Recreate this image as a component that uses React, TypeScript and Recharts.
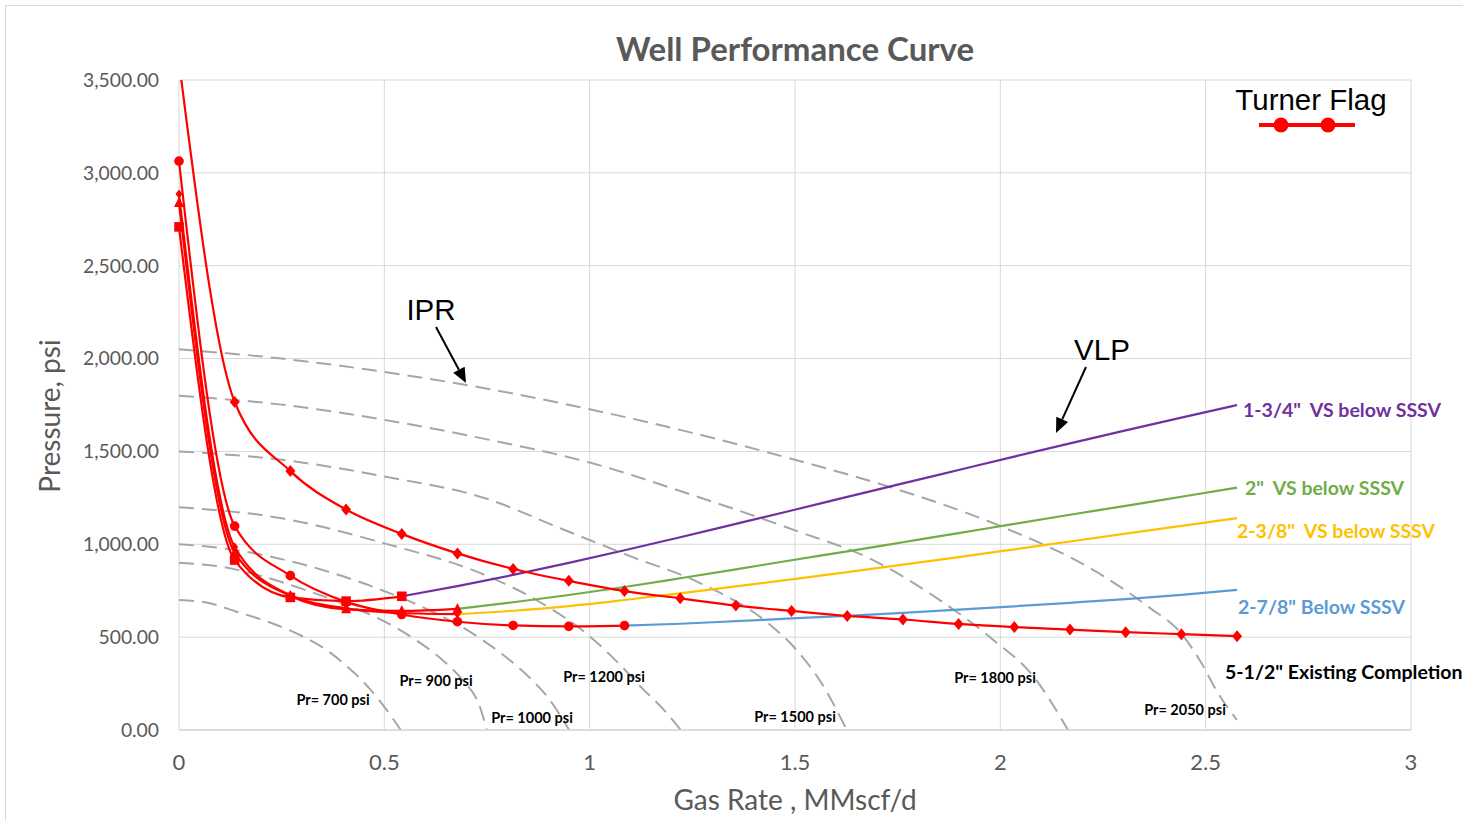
import React from "react";
import { LineChart, Line, XAxis, YAxis, CartesianGrid } from "recharts";

// Gas rates (MMscf/d) at which the lift curves were computed
const rates = [
  0, 0.1356, 0.2712, 0.4068, 0.5424, 0.678, 0.8136, 0.9492, 1.0848, 1.2204,
  1.356, 1.4916, 1.6272, 1.7628, 1.8984, 2.034, 2.1696, 2.3052, 2.4408, 2.5764,
];

// Turner critical-rate (liquid loading) curves, psi
const turner512 = [3600, 1766, 1394, 1187, 1056, 951, 867, 803, 748, 709, 670, 641, 614, 595, 571, 554, 541, 527, 516, 505];
const turner278 = [3063, 1098, 831, 690, 622, 583, 563, 558, 562];
const turner238 = [2886, 985, 726, 655, 630, 624];
const turner2in = [2838, 955, 722, 650, 641, 652];
const turner134 = [2709, 915, 714, 694, 720];

// Vertical lift performance beyond the Turner point, psi
const vlp134 = [720, 775, 835, 900, 968, 1038, 1110, 1182, 1255, 1328, 1400, 1472, 1543, 1613, 1682, 1750];
const vlp2in = [652, 688, 727, 770, 817, 865, 914, 962, 1011, 1060, 1110, 1159, 1207, 1256, 1305];
const vlp238 = [624, 642, 667, 700, 736, 773, 811, 850, 890, 931, 973, 1015, 1057, 1099, 1141];
const vlp278 = [562, 572, 586, 601, 615, 631, 648, 666, 685, 705, 728, 755];

// Inflow performance curves for each reservoir pressure
const ipr700Rate = [0, 0.07, 0.14, 0.22, 0.303, 0.36, 0.408, 0.44, 0.465, 0.5, 0.54];
const ipr700Psi = [700, 685, 637, 580, 502, 430, 345, 280, 220, 125, 0];
const ipr900Rate = [0, 0.1, 0.2, 0.3, 0.4, 0.5, 0.58, 0.64, 0.69, 0.73, 0.75];
const ipr900Psi = [900, 880, 830, 760, 680, 585, 480, 380, 270, 140, 0];
const ipr1000Rate = [0, 0.12, 0.24, 0.36, 0.48, 0.6, 0.7, 0.78, 0.85, 0.9, 0.95];
const ipr1000Psi = [1000, 975, 925, 855, 765, 655, 540, 420, 290, 170, 0];
const ipr1200Rate = [0, 0.25, 0.5, 0.75, 0.87, 1.0, 1.07, 1.13, 1.18, 1.222];
const ipr1200Psi = [1200, 1140, 1005, 830, 700, 505, 360, 220, 110, 0];
const ipr1500Rate = [0, 0.25, 0.5, 0.75, 0.93, 1.1, 1.27, 1.43, 1.5, 1.57, 1.626];
const ipr1500Psi = [1500, 1455, 1365, 1245, 1085, 935, 790, 583, 440, 233, 0];
const ipr1800Rate = [0, 0.25, 0.5, 0.75, 1.0, 1.25, 1.5, 1.69, 1.84, 1.98, 2.08, 2.165];
const ipr1800Psi = [1800, 1752, 1670, 1565, 1440, 1265, 1075, 915, 718, 490, 290, 0];
const ipr2050Rate = [0, 0.25, 0.5, 0.75, 1.0, 1.25, 1.5, 1.75, 2.0, 2.24, 2.36, 2.44, 2.49, 2.53, 2.576];
const ipr2050Psi = [2050, 2000, 1928, 1838, 1727, 1600, 1455, 1295, 1098, 844, 664, 521, 359, 198, 54];

const xTicks = [0, 0.5, 1, 1.5, 2, 2.5, 3];
const yTicks = [0, 500, 1000, 1500, 2000, 2500, 3000, 3500];

const RED = "#FF0000";
const GRAY_TEXT = "#595959";
const IPR_GRAY = "#A6A6A6";
const CAL = "Lato, 'Open Sans', sans-serif";
const ARIAL = "'Liberation Sans', Arial, sans-serif";

const pairs = (qs: number[], ps: number[]) => ps.map((p, i) => ({ q: qs[i], p }));

type Shape = "diamond" | "smallDiamond" | "circle" | "square" | "triangle";

const marker = (shape: Shape) => (props: any) => {
  const { cx, cy, index } = props;
  const key = `${shape}-${index}`;
  if (typeof cx !== "number" || typeof cy !== "number") return <g key={key} />;
  switch (shape) {
    case "diamond":
      return <path key={key} d={`M${cx},${cy - 6}L${cx + 5},${cy}L${cx},${cy + 6}L${cx - 5},${cy}Z`} fill={RED} />;
    case "smallDiamond":
      return <path key={key} d={`M${cx},${cy - 4.5}L${cx + 3.5},${cy}L${cx},${cy + 4.5}L${cx - 3.5},${cy}Z`} fill={RED} />;
    case "circle":
      return <circle key={key} cx={cx} cy={cy} r={4.8} fill={RED} />;
    case "square":
      return <rect key={key} x={cx - 4.8} y={cy - 4.8} width={9.6} height={9.6} fill={RED} />;
    case "triangle":
      return <path key={key} d={`M${cx},${cy - 6}L${cx + 5},${cy + 4}L${cx - 5},${cy + 4}Z`} fill={RED} />;
  }
  return <g key={key} />;
};

const fmtPsi = (v: number) =>
  v.toLocaleString("en-US", { minimumFractionDigits: 2, maximumFractionDigits: 2 });

function Arrow({ x1, y1, x2, y2 }: { x1: number; y1: number; x2: number; y2: number }) {
  const dx = x2 - x1;
  const dy = y2 - y1;
  const len = Math.hypot(dx, dy);
  const ux = dx / len;
  const uy = dy / len;
  const hl = 15;
  const hw = 6.5;
  const bx = x2 - ux * hl;
  const by = y2 - uy * hl;
  return (
    <g>
      <line x1={x1} y1={y1} x2={bx} y2={by} stroke="#000" strokeWidth={2} />
      <polygon
        points={`${x2},${y2} ${bx - uy * hw},${by + ux * hw} ${bx + uy * hw},${by - ux * hw}`}
        fill="#000"
      />
    </g>
  );
}

const iprCurves = [
  { name: "Pr 700", data: pairs(ipr700Rate, ipr700Psi) },
  { name: "Pr 900", data: pairs(ipr900Rate, ipr900Psi) },
  { name: "Pr 1000", data: pairs(ipr1000Rate, ipr1000Psi) },
  { name: "Pr 1200", data: pairs(ipr1200Rate, ipr1200Psi) },
  { name: "Pr 1500", data: pairs(ipr1500Rate, ipr1500Psi) },
  { name: "Pr 1800", data: pairs(ipr1800Rate, ipr1800Psi) },
  { name: "Pr 2050", data: pairs(ipr2050Rate, ipr2050Psi) },
];

const prLabels = [
  { text: "Pr= 700 psi", x: 333, y: 705 },
  { text: "Pr= 900 psi", x: 436, y: 686 },
  { text: "Pr= 1000 psi", x: 532, y: 723 },
  { text: "Pr= 1200 psi", x: 604, y: 682 },
  { text: "Pr= 1500 psi", x: 795, y: 722 },
  { text: "Pr= 1800 psi", x: 995, y: 683 },
  { text: "Pr= 2050 psi", x: 1185, y: 715 },
];

const curveLabels = [
  { text: '1-3/4"  VS below SSSV', x: 1243, y: 417, color: "#7030A0" },
  { text: '2"  VS below SSSV', x: 1245, y: 495, color: "#70AD47" },
  { text: '2-3/8"  VS below SSSV', x: 1237, y: 538, color: "#FFC000" },
  { text: '2-7/8" Below SSSV', x: 1238, y: 614, color: "#5B9BD5" },
  { text: '5-1/2" Existing Completion', x: 1225, y: 679, color: "#000000" },
];

export default function App() {
  return (
    <div style={{ position: "absolute", left: 0, top: 0, width: 1463, height: 821, background: "#fff" }}>
      <LineChart width={1463} height={821} margin={{ top: 80, right: 52, bottom: 0, left: 0 }}>
        <CartesianGrid stroke="#D9D9D9" strokeWidth={1} />
        <XAxis
          type="number"
          dataKey="q"
          domain={[0, 3]}
          ticks={xTicks}
          height={91}
          axisLine={{ stroke: "#D9D9D9", strokeWidth: 1.5 }}
          tickLine={false}
          tickSize={0}
          tickMargin={24}
          tick={{ fill: GRAY_TEXT, fontSize: 22, fontFamily: CAL }}
        />
        <YAxis
          type="number"
          dataKey="p"
          domain={[0, 3500]}
          ticks={yTicks}
          width={179}
          axisLine={false}
          tickLine={false}
          tickSize={0}
          tickMargin={20}
          tickFormatter={fmtPsi}
          tick={{ fill: GRAY_TEXT, fontSize: 19.3, fontFamily: CAL }}
        />
        <YAxis yAxisId="clip" hide type="number" domain={[0, 3500]} allowDataOverflow />

        {iprCurves.map((c) => (
          <Line
            key={c.name}
            name={c.name}
            data={c.data}
            dataKey="p"
            type="monotone"
            stroke={IPR_GRAY}
            strokeWidth={2}
            strokeDasharray="15 8"
            dot={false}
            activeDot={false}
            isAnimationActive={false}
          />
        ))}

        <Line data={pairs(rates.slice(4), vlp134)} dataKey="p" type="monotone" stroke="#7030A0" strokeWidth={2.2} dot={false} activeDot={false} isAnimationActive={false} />
        <Line data={pairs(rates.slice(5), vlp2in)} dataKey="p" type="monotone" stroke="#70AD47" strokeWidth={2.2} dot={false} activeDot={false} isAnimationActive={false} />
        <Line data={pairs(rates.slice(5), vlp238)} dataKey="p" type="monotone" stroke="#FFC000" strokeWidth={2.2} dot={false} activeDot={false} isAnimationActive={false} />
        <Line data={pairs(rates.slice(8), vlp278)} dataKey="p" type="monotone" stroke="#5B9BD5" strokeWidth={2.2} dot={false} activeDot={false} isAnimationActive={false} />

        <Line data={pairs(rates, turner278)} dataKey="p" type="monotone" stroke={RED} strokeWidth={2.2} dot={marker("circle")} activeDot={false} isAnimationActive={false} />
        <Line data={pairs(rates, turner238)} dataKey="p" type="monotone" stroke={RED} strokeWidth={2.2} dot={marker("smallDiamond")} activeDot={false} isAnimationActive={false} />
        <Line data={pairs(rates, turner2in)} dataKey="p" type="monotone" stroke={RED} strokeWidth={2.2} dot={marker("triangle")} activeDot={false} isAnimationActive={false} />
        <Line data={pairs(rates, turner134)} dataKey="p" type="monotone" stroke={RED} strokeWidth={2.2} dot={marker("square")} activeDot={false} isAnimationActive={false} />
        <Line yAxisId="clip" data={pairs(rates, turner512)} dataKey="p" type="monotone" stroke={RED} strokeWidth={2.2} dot={marker("diamond")} activeDot={false} isAnimationActive={false} />
      </LineChart>

      <svg width={1463} height={821} style={{ position: "absolute", left: 0, top: 0, pointerEvents: "none" }}>
        <rect x={5.5} y={5.5} width={1470} height={830} fill="none" stroke="#D9D9D9" strokeWidth={1} />
        <text x={795} y={61} textAnchor="middle" fontFamily={CAL} fontWeight={700} fontSize={33} fill={GRAY_TEXT}>
          Well Performance Curve
        </text>
        <text x={795} y={810} textAnchor="middle" fontFamily={CAL} fontSize={28} fill={GRAY_TEXT}>
          Gas Rate , MMscf/d
        </text>
        <text
          x={0}
          y={0}
          transform="translate(60,416) rotate(-90)"
          textAnchor="middle"
          fontFamily={CAL}
          fontSize={28}
          fill={GRAY_TEXT}
        >
          Pressure, psi
        </text>

        <text x={431} y={320} textAnchor="middle" fontFamily={ARIAL} fontSize={29.5} fill="#000">IPR</text>
        <Arrow x1={436} y1={327} x2={466} y2={383} />
        <text x={1102} y={360} textAnchor="middle" fontFamily={ARIAL} fontSize={29.5} fill="#000">VLP</text>
        <Arrow x1={1086} y1={367} x2={1056} y2={433} />

        <text x={1311} y={110} textAnchor="middle" fontFamily={ARIAL} fontSize={29.5} fill="#000">Turner Flag</text>
        <line x1={1259} y1={125} x2={1355} y2={125} stroke={RED} strokeWidth={4} />
        <circle cx={1281} cy={125} r={7.5} fill={RED} />
        <circle cx={1328} cy={125} r={7.5} fill={RED} />

        {prLabels.map((l) => (
          <text key={l.text} x={l.x} y={l.y} textAnchor="middle" fontFamily={CAL} fontWeight={700} fontSize={14.5} fill="#000">
            {l.text}
          </text>
        ))}
        {curveLabels.map((l) => (
          <text key={l.text} x={l.x} y={l.y} fontFamily={CAL} fontWeight={700} fontSize={19.5} fill={l.color} style={{ whiteSpace: "pre" }}>
            {l.text}
          </text>
        ))}
      </svg>
    </div>
  );
}
